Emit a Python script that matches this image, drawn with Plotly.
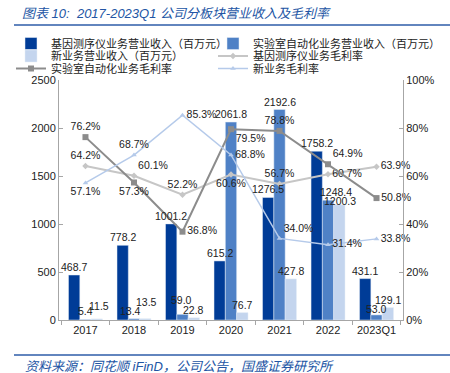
import plotly.graph_objects as go

categories = ["2017", "2018", "2019", "2020", "2021", "2022", "2023Q1"]
gene_rev = [468.7, 778.2, 1001.2, 615.2, 1276.5, 1758.2, 431.1]
lab_rev = [5.4, 13.4, 59.0, 2061.8, 2192.6, 1248.4, 53.0]
new_rev = [11.5, 13.5, 22.8, 76.7, 427.8, 1200.3, 129.1]
gene_gm = [64.2, 60.1, 52.2, 60.6, 56.7, 60.7, 63.9]
lab_gm = [76.2, 57.3, 36.8, 79.5, 78.8, 64.9, 50.8]
new_gm = [57.1, 68.7, 85.3, 68.8, 34.0, 31.4, 33.8]
left_ticks = [0, 500, 1000, 1500, 2000, 2500]
right_ticks = [0, 20, 40, 60, 80, 100]

W, H = 450, 373
L, R, T, B = 59, 47, 80, 53
PW, PH = W - L - R, H - T - B
BARGAP = 0.3

FONT = "Liberation Sans, Noto Sans CJK SC"
CJK = "Noto Sans CJK SC"
C_DARK = "#003C97"
C_MID = "#4F81C6"
C_LIGHT = "#C4D5EE"
C_GENE_L = "#C6C6C6"
C_LAB_L = "#8C8C8C"
C_NEW_L = "#B5CAEA"
TITLE_BLUE = "#2255A4"

gene_pos = ["top center", "top right", "top center", "bottom center", "top center", "middle right", "middle right"]
lab_pos = ["top center", "bottom center", "middle right", "bottom right", "top center", "top right", "middle right"]
new_pos = ["bottom center", "top center", "middle right", "middle right", "top right", "middle right", "middle right"]

# bar label nudges in px (dx, dy) per series, to mimic the reference's label placement
gene_lbl_dx = [0, 0, 0, 0, 0, 0, 0]
gene_lbl_dy = [0, 0, 0, 0, 0, 0, 0]
lab_lbl_dx = [0, -3, -1, 0, 0, 8, 0]
lab_lbl_dy = [0, 0, 6, 0, 0, 0, -2]
new_lbl_dx = [2, 1, 0, 0, 0, 1, 0]
new_lbl_dy = [5, 9, 0, 0, 0, -4, 0]

# legend slots in px (x, y)
legend_slots = [(11, 43.5), (213, 43.5), (11, 56), (213, 56), (11, 68.5), (213, 68.5)]

fig = go.Figure()
lab_font = dict(family=FONT, size=10.5, color="#222222")

def fmt1(v):
    return f"{v:.1f}"

bar_series = [
    ("基因测序仪业务营业收入（百万元）", gene_rev, C_DARK, gene_lbl_dx, gene_lbl_dy),
    ("实验室自动化业务营业收入（百万元）", lab_rev, C_MID, lab_lbl_dx, lab_lbl_dy),
    ("新业务营业收入（百万元）", new_rev, C_LIGHT, new_lbl_dx, new_lbl_dy),
]
line_series = [
    ("基因测序仪业务毛利率", gene_gm, C_GENE_L, 2, "diamond", 5, gene_pos),
    ("实验室自动化业务毛利率", lab_gm, C_LAB_L, 2, "square", 6, lab_pos),
    ("新业务毛利率", new_gm, C_NEW_L, 1.5, "triangle-up", 5, new_pos),
]
leg_ids = ["legend"] + [f"legend{k}" for k in range(2, 7)]

for i, (name, vals, col, _, _) in enumerate(bar_series):
    fig.add_trace(go.Bar(x=categories, y=vals, name=name, marker_color=col,
                         legend=leg_ids[i], cliponaxis=False))

for j, (name, vals, col, lw, sym, ms, pos) in enumerate(line_series):
    fig.add_trace(go.Scatter(x=categories, y=vals, name=name, yaxis="y2",
                             mode="lines+markers+text", line=dict(color=col, width=lw),
                             marker=dict(symbol=sym, size=ms, color=col),
                             text=[f"{v:.1f}%" for v in vals], textposition=pos,
                             textfont=lab_font, cliponaxis=False, legend=leg_ids[3 + j]))

# bar value labels as annotations so they stay above neighbouring bars
cat_w = PW / len(categories)
bar_w = cat_w * (1 - BARGAP) / 3
for i, (name, vals, col, dxs, dys) in enumerate(bar_series):
    shift = (i - 1) * bar_w
    for k, v in enumerate(vals):
        fig.add_annotation(x=k, y=v, xref="x", yref="y", text=fmt1(v), showarrow=False,
                           xanchor="center", yanchor="bottom", xshift=shift + dxs[k],
                           yshift=dys[k], font=lab_font)

def py(yp):
    return (H - B - yp) / PH

def px(xp):
    return (xp - L) / PW

legends = {}
for lid, (lx, ly) in zip(leg_ids, legend_slots):
    legends[lid] = dict(orientation="h", xref="container", yref="container",
                        x=lx / W, y=1 - ly / H, xanchor="left", yanchor="middle",
                        font=dict(family=CJK, size=11, color="#222222"),
                        bgcolor="rgba(0,0,0,0)", itemwidth=30)

fig.update_layout(
    width=W, height=H,
    margin=dict(l=L, r=R, t=T, b=B, autoexpand=False),
    paper_bgcolor="white", plot_bgcolor="white",
    barmode="group", bargap=BARGAP, bargroupgap=0,
    font=dict(family=FONT, size=11, color="#222222"),
    xaxis=dict(type="category", showline=True, linecolor="#A6A6A6", linewidth=1,
               ticks="outside", tickson="boundaries", ticklen=4, tickcolor="#A6A6A6",
               tickfont=dict(family=FONT, size=11), showgrid=False),
    yaxis=dict(range=[0, 2500], tickvals=left_ticks, showline=True, linecolor="#A6A6A6",
               ticks="inside", ticklen=4, tickcolor="#A6A6A6", showgrid=False,
               zeroline=False, tickfont=dict(family=FONT, size=11)),
    yaxis2=dict(range=[0, 100], tickvals=right_ticks, ticktext=[f"{v}%" for v in right_ticks],
                overlaying="y", side="right", showline=True, linecolor="#A6A6A6",
                ticks="inside", ticklen=4, tickcolor="#A6A6A6", showgrid=False,
                zeroline=False, tickfont=dict(family=FONT, size=11)),
    showlegend=True,
    **legends,
)

fig.add_annotation(text="<i>图表 10:  2017-2023Q1 公司分板块营业收入及毛利率</i>",
                   xref="paper", yref="paper", x=px(20), y=py(13), xanchor="left",
                   yanchor="middle", showarrow=False,
                   font=dict(family="Liberation Sans, Noto Sans CJK SC", size=13, color=TITLE_BLUE))
fig.add_annotation(text="<i>资料来源：同花顺 iFinD，公司公告，国盛证券研究所</i>",
                   xref="paper", yref="paper", x=px(23), y=py(366), xanchor="left",
                   yanchor="middle", showarrow=False,
                   font=dict(family="Liberation Sans, Noto Sans CJK SC", size=13, color=TITLE_BLUE))
for yline in (25, 355):
    fig.add_shape(type="line", xref="paper", yref="paper", x0=px(14), x1=px(W),
                  y0=py(yline), y1=py(yline), line=dict(color="#2E5DA8", width=1.5))

# remove the page's default 8px body margin so the figure fills the window exactly
fig.write_html("out.html", config={"displayModeBar": False},
               post_script="document.body.style.margin='0';document.body.style.padding='0';")
